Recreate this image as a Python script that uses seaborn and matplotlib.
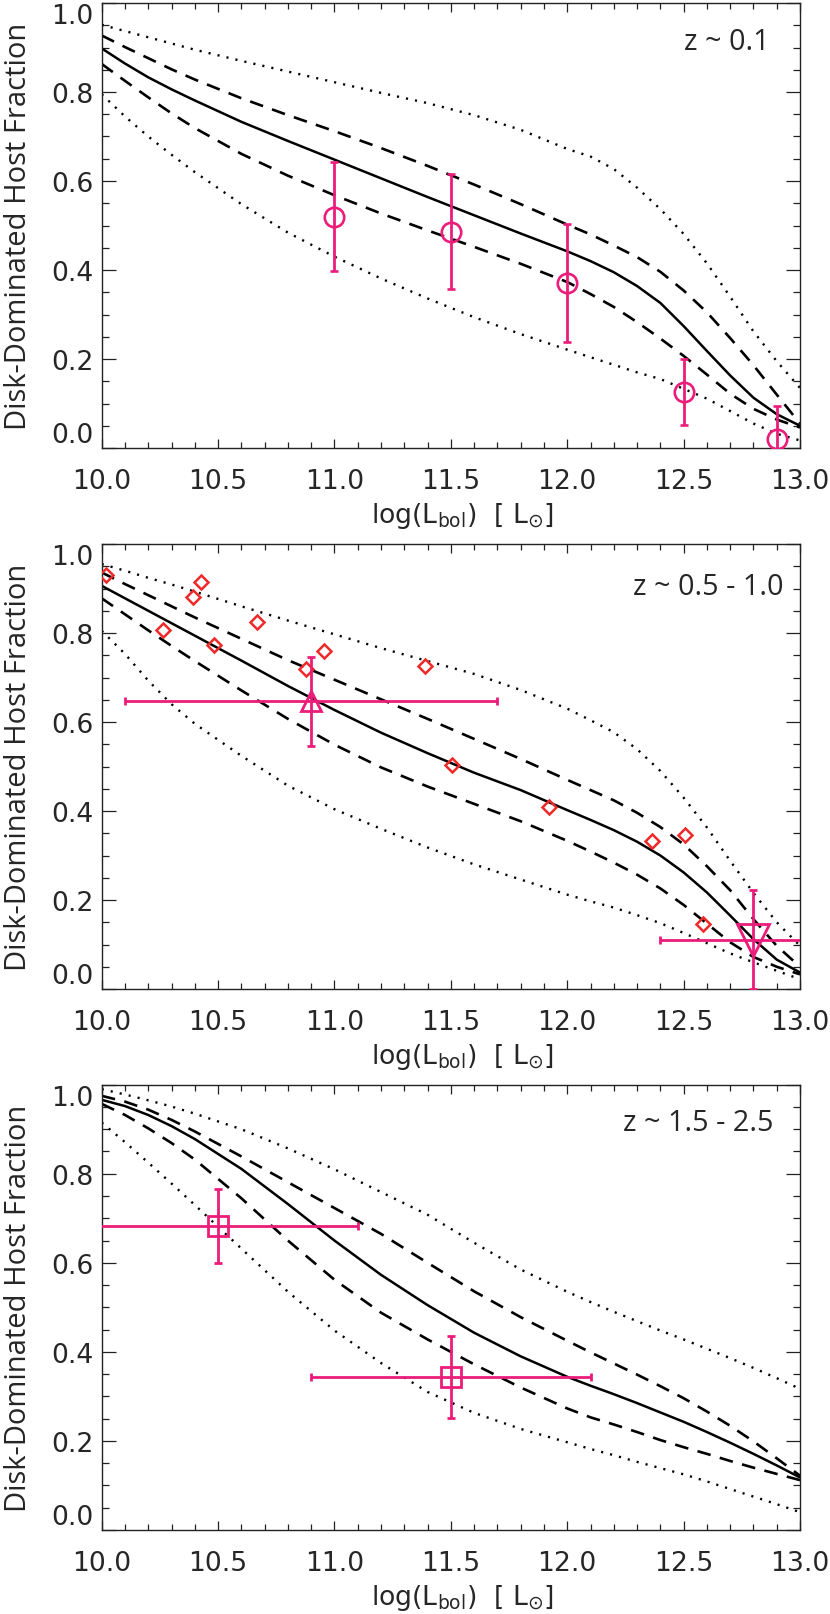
import numpy as np
import pandas as pd
import matplotlib
matplotlib.use("Agg")
import matplotlib.pyplot as plt
import seaborn as sns

# ---------------- data ----------------
LBOL = [10.0, 10.1, 10.2, 10.3, 10.4, 10.6, 10.8, 11.0, 11.2, 11.4, 11.6,
        11.8, 12.0, 12.1, 12.2, 12.3, 12.4, 12.5, 12.6, 12.7, 12.8, 12.9, 13.0]

# panel 1 : z ~ 0.1
p1_solid = [.898, .864, .833, .806, .781, .733, .690, .648, .606, .564, .523,
            .482, .442, .420, .395, .364, .326, .274, .218, .163, .113, .076, .050]
p1_dash_hi = [.927, .901, .876, .851, .828, .786, .748, .712, .674, .634, .592,
              .548, .502, .480, .455, .429, .396, .354, .305, .247, .186, .120, .055]
p1_dash_lo = [.863, .825, .788, .752, .719, .661, .612, .568, .527, .489, .452,
              .414, .373, .346, .317, .283, .246, .207, .165, .122, .088, .064, .046]
p1_dot_hi = [.951, .937, .923, .909, .895, .870, .846, .822, .798, .775, .748,
             .715, .672, .655, .627, .585, .537, .481, .415, .340, .262, .195, .135]
p1_dot_lo = [.795, .745, .700, .659, .620, .548, .484, .430, .381, .336, .294,
             .256, .221, .204, .187, .170, .155, .133, .111, .083, .055, .032, .017]

# panel 2 : z ~ 0.5 - 1.0
p2_solid = [.906, .878, .850, .822, .794, .738, .681, .627, .576, .530, .486,
            .447, .402, .380, .357, .331, .300, .262, .217, .165, .112, .066, .037]
p2_dash_hi = [.936, .910, .885, .860, .835, .787, .739, .695, .651, .607, .562,
              .517, .470, .447, .424, .396, .364, .325, .276, .222, .157, .097, .050]
p2_dash_lo = [.878, .842, .806, .771, .737, .671, .607, .549, .498, .455, .416,
              .377, .333, .309, .284, .257, .226, .189, .147, .105, .072, .050, .033]
p2_dot_hi = [.955, .940, .924, .909, .893, .860, .828, .797, .766, .737, .708,
             .672, .630, .604, .577, .539, .490, .430, .363, .288, .216, .150, .097]
p2_dot_lo = [.805, .753, .693, .640, .596, .524, .457, .404, .360, .318, .280,
             .246, .212, .197, .183, .166, .148, .126, .103, .080, .060, .041, .022]

# panel 3 : z ~ 1.5 - 2.5
p3_solid = [.966, .952, .932, .907, .878, .811, .732, .650, .573, .505, .443,
            .390, .344, .324, .305, .285, .264, .243, .220, .196, .171, .145, .118]
p3_dash_hi = [.975, .962, .944, .921, .895, .839, .781, .723, .665, .600, .536,
              .478, .425, .399, .374, .349, .323, .296, .266, .234, .199, .161, .122]
p3_dash_lo = [.957, .932, .902, .869, .832, .745, .650, .562, .488, .428, .372,
              .320, .273, .253, .237, .220, .202, .186, .171, .155, .140, .126, .112]
p3_dot_hi = [.990, .978, .965, .951, .935, .900, .857, .810, .759, .708, .645,
             .585, .535, .512, .490, .469, .448, .428, .407, .386, .364, .341, .317]
p3_dot_lo = [.915, .871, .825, .778, .730, .632, .535, .448, .375, .310, .263,
             .227, .197, .182, .168, .153, .139, .125, .109, .092, .075, .058, .040]

# measurements
p1_pts_x = [11.0, 11.5, 12.0, 12.5, 12.9]
p1_pts_y = [0.520, 0.486, 0.371, 0.125, 0.020]
p1_pts_yerr = [0.122, 0.129, 0.133, 0.074, 0.075]

p2_dia_x = [10.02, 10.265, 10.394, 10.428, 10.483, 10.666, 10.878, 10.957,
            11.387, 11.507, 11.92, 12.365, 12.506, 12.582]
p2_dia_y = [0.931, 0.807, 0.882, 0.914, 0.773, 0.824, 0.720, 0.760,
            0.725, 0.503, 0.408, 0.332, 0.347, 0.145]
p2_up_x, p2_up_y, p2_up_xerr, p2_up_yerr = [10.9], [0.647], [0.8], [0.10]
p2_dn_x, p2_dn_y, p2_dn_xerr, p2_dn_yerr = [12.8], [0.111], [0.4], [0.111]

p3_sq_x = [10.5, 11.5]
p3_sq_y = [0.683, 0.344]
p3_sq_xerr = [0.6, 0.6]
p3_sq_yerr = [0.083, 0.092]

panel_titles = ["z ~ 0.1", "z ~ 0.5 - 1.0", "z ~ 1.5 - 2.5"]
x_ticks = [10.0, 10.5, 11.0, 11.5, 12.0, 12.5, 13.0]
y_ticks = [0.0, 0.2, 0.4, 0.6, 0.8, 1.0]

# ---------------- style ----------------
sns.set_theme(style="ticks")
plt.rcParams["font.family"] = ["DejaVu Sans"]
PINK = "#EC1C7A"
RED = "#EE2A2A"

fig = plt.figure(figsize=(8.3, 16.15), dpi=100)
W, H = 830.0, 1615.0
left = 101.7 / W
width = (800.0 - 101.7) / W
tops = [4.0, 545.0, 1085.7]
bots = [449.0, 990.0, 1531.0]

curves = [
    (p1_solid, p1_dash_hi, p1_dash_lo, p1_dot_hi, p1_dot_lo),
    (p2_solid, p2_dash_hi, p2_dash_lo, p2_dot_hi, p2_dot_lo),
    (p3_solid, p3_dash_hi, p3_dash_lo, p3_dot_hi, p3_dot_lo),
]
title_pos = [(0.957, 0.8966), (0.976, 0.8876), (0.962, 0.899)]

axes = []
for i in range(3):
    ax = fig.add_axes([left, 1 - bots[i] / H, width, (bots[i] - tops[i]) / H])
    axes.append(ax)
    solid, dhi, dlo, thi, tlo = curves[i]
    df = pd.DataFrame({"L": LBOL, "solid": solid, "dhi": dhi, "dlo": dlo,
                       "thi": thi, "tlo": tlo})
    for col in ("thi", "tlo"):
        sns.lineplot(data=df, x="L", y=col, ax=ax, color="black", lw=1.7,
                     linestyle=(0, (0.9, 3.0)), sort=False, estimator=None)
    for col in ("dhi", "dlo"):
        sns.lineplot(data=df, x="L", y=col, ax=ax, color="black", lw=1.9,
                     linestyle=(0, (5.2, 3.6)), sort=False, estimator=None)
    sns.lineplot(data=df, x="L", y="solid", ax=ax, color="black", lw=1.8,
                 sort=False, estimator=None)

    ax.set_xlim(10.0, 13.0)
    ax.set_ylim(0.0, 1.0)
    ax.set_xticks(x_ticks, [f"{v:.1f}" for v in x_ticks])
    ax.set_yticks(y_ticks, [f"{v:.1f}" for v in y_ticks])
    ax.set_xticks(np.arange(10.0, 13.001, 0.1), minor=True)
    ax.set_yticks(np.arange(0.0, 1.001, 0.05), minor=True)
    ax.tick_params(which="both", direction="in", top=True, right=True,
                   width=0.9, color="#222222", labelsize=19.2)
    ax.tick_params(axis="x", which="major", length=6.5, pad=14.5)
    ax.tick_params(axis="x", which="minor", length=4.0)
    ax.tick_params(axis="y", which="major", length=10.0, pad=6.0)
    ax.tick_params(axis="y", which="minor", length=5.0)
    ylabs = ax.get_yticklabels()
    ylabs[0].set_va("bottom")
    ylabs[-1].set_va("top")
    for sp in ax.spines.values():
        sp.set_linewidth(1.0)
        sp.set_color("#222222")

    ax.set_ylabel("Disk-Dominated Host Fraction", fontsize=21,
                  family=["Open Sans", "DejaVu Sans"])
    ax.yaxis.set_label_coords(-0.0977, 0.5)
    ax.set_xlabel(r"log(L$_{\mathregular{bol}}$)  [ L$_{\odot}$]", fontsize=19.2)
    ax.xaxis.set_label_coords(0.517, -0.117)
    tx, ty = title_pos[i]
    ax.text(tx, ty, panel_titles[i], transform=ax.transAxes, ha="right",
            va="baseline", fontsize=20.7, family=["Open Sans", "DejaVu Sans"])

# measurements
ax = axes[0]
ax.errorbar(p1_pts_x, p1_pts_y, yerr=p1_pts_yerr, fmt="o", ms=14, mfc="none",
            mec=PINK, mew=1.9, ecolor=PINK, elinewidth=2.0, capsize=2.6,
            capthick=2.0, zorder=5)

ax = axes[1]
ax.plot(p2_dia_x, p2_dia_y, ls="none", marker="D", ms=7.4, mfc="none",
        mec=RED, mew=1.8, zorder=5)
ax.errorbar(p2_up_x, p2_up_y, xerr=p2_up_xerr, yerr=p2_up_yerr, fmt="^",
            ms=14.5, mfc="none", mec=PINK, mew=2.0, ecolor=PINK,
            elinewidth=2.0, capsize=2.6, capthick=2.0, zorder=6)
ax.errorbar(p2_dn_x, p2_dn_y, xerr=p2_dn_xerr, yerr=p2_dn_yerr, fmt="v",
            ms=23, mfc="none", mec=PINK, mew=2.0, ecolor=PINK,
            elinewidth=2.0, capsize=2.6, capthick=2.0, zorder=6)

ax = axes[2]
ax.errorbar(p3_sq_x, p3_sq_y, xerr=p3_sq_xerr, yerr=p3_sq_yerr, fmt="s",
            ms=14.5, mfc="none", mec=PINK, mew=2.0, ecolor=PINK,
            elinewidth=2.0, capsize=2.6, capthick=2.0, zorder=6)

fig.savefig("out.png", dpi=100)
